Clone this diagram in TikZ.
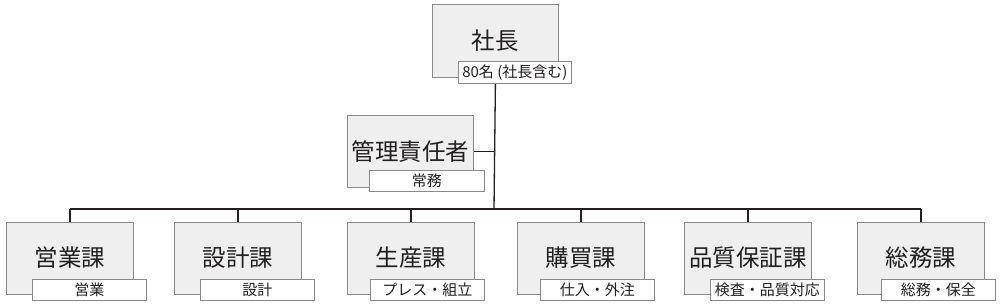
\documentclass[tikz,border=0pt]{standalone}
\usepackage{fontspec}
\setmainfont{Noto Sans CJK JP}
\begin{document}
\begin{tikzpicture}[x=1pt,y=-1pt,
  unitbox/.style={draw=boxgray,fill=boxfill,line width=0.8pt,anchor=north west,
    minimum width=127pt,minimum height=72pt,inner sep=0pt,
    font=\fontsize{23.5}{26}\selectfont,text=textdark},
  tagbox/.style={draw=boxgray,fill=white,line width=0.8pt,anchor=north west,
    minimum width=114pt,minimum height=21pt,inner sep=0pt,
    font=\fontsize{15}{17}\selectfont,text=textdark},
  link/.style={draw=linedark,line width=1.3pt}
]
\definecolor{boxgray}{HTML}{8A8A8A}
\definecolor{boxfill}{HTML}{EFEFEF}
\definecolor{linedark}{HTML}{231F20}
\definecolor{textdark}{HTML}{231F20}
\useasboundingbox (0,0) rectangle (1000,306);

% top
\node[unitbox,minimum width=126pt,minimum height=73pt] (ceo) at (432,4) {\raisebox{3pt}{社長}};
\node[tagbox,minimum width=113pt,minimum height=22pt] (ceot) at (458,61) {80名 (社長含む)};

% management
\node[unitbox,minimum width=126pt] (mgr) at (347,115) {\raisebox{2pt}{管理責任者}};
\node[tagbox,minimum width=115pt] (mgrt) at (369,170) {常務};

% departments
\node[unitbox] (d1) at (6,222) {\raisebox{3pt}{営業課}};
\node[tagbox] (d1t) at (32,279) {営業};
\node[unitbox] (d2) at (174,222) {\raisebox{3pt}{設計課}};
\node[tagbox] (d2t) at (200,279) {設計};
\node[unitbox] (d3) at (347,222) {\raisebox{3pt}{生産課}};
\node[tagbox] (d3t) at (370,279) {プレス・組立};
\node[unitbox] (d4) at (517,222) {\raisebox{3pt}{購買課}};
\node[tagbox] (d4t) at (540,279) {仕入・外注};
\node[unitbox] (d5) at (684,222) {\raisebox{3pt}{品質保証課}};
\node[tagbox] (d5t) at (710,279) {検査・品質対応};
\node[unitbox] (d6) at (857,222) {\raisebox{3pt}{総務課}};
\node[tagbox] (d6t) at (881,279) {総務・保全};

% connectors
\coordinate (trunkTop) at (ceo.south |- ceot.south);
\coordinate (trunkBot) at (494,209);
\coordinate (busL) at (d1.north |- trunkBot);
\coordinate (busR) at (d6.north |- trunkBot);
\draw[link] (trunkTop) -- (trunkBot);
\draw[link] (mgr.east) -- (mgr.east -| trunkTop);
\draw[link] (busL) -- (busR);
\foreach \d in {d1,d2,d3,d4,d5,d6}{
  \draw[link] (\d.north |- trunkBot) -- (\d.north);
}
\end{tikzpicture}
\end{document}
